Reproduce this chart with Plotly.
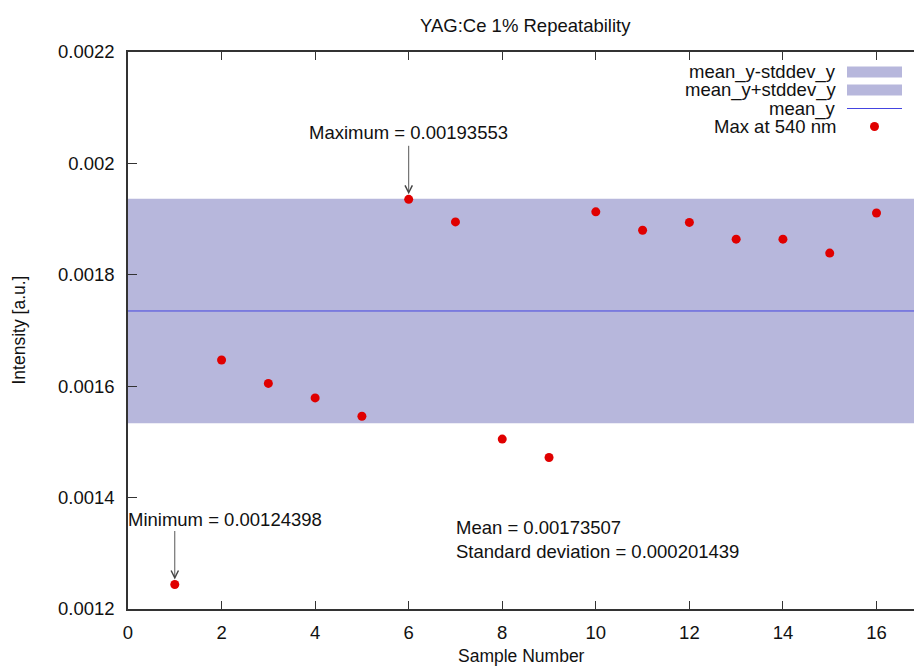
import plotly.graph_objects as go

# Repeatability measurement: peak intensity at 540 nm for each sample
samples = list(range(1, 17))
intensity = [0.00124398, 0.001647, 0.001605, 0.001579, 0.001546, 0.00193553,
             0.001895, 0.001505, 0.001472, 0.001913, 0.001880, 0.001894,
             0.001864, 0.001864, 0.001839, 0.001911]
mean_y = 0.00173507
stddev_y = 0.000201439
band_x = [0, 17]

legend_names = ["mean_y-stddev_y", "mean_y+stddev_y", "mean_y", "Max at 540 nm"]
x_ticks = list(range(0, 17, 2))
y_ticks = [0.0012, 0.0014, 0.0016, 0.0018, 0.002, 0.0022]
y_tick_text = ["0.0012", "0.0014", "0.0016", "0.0018", "0.002", "0.0022"]

W, H = 914, 669
L, T, B = 128, 52, 60
PW, PH = W - L, H - T - B

FONT = "Liberation Sans, Arial, Helvetica, sans-serif"
BAND = "rgb(183,183,220)"
LINE = "#4444e0"
RED = "#e00000"
INK = "#111111"
FRAME = "#333333"


def px(xp):
    return (xp - L) / PW


def py(yp):
    return (T + PH - yp) / PH


fig = go.Figure()

lower = [mean_y - stddev_y] * len(band_x)
upper = [mean_y + stddev_y] * len(band_x)
centre = [mean_y] * len(band_x)

fig.add_trace(go.Scatter(x=band_x, y=lower, mode="lines", line=dict(width=0),
                         name=legend_names[0], hoverinfo="skip"))
fig.add_trace(go.Scatter(x=band_x, y=upper, mode="lines", line=dict(width=0),
                         fill="tonexty", fillcolor=BAND, name=legend_names[1],
                         hoverinfo="skip"))
fig.add_trace(go.Scatter(x=band_x, y=centre, mode="lines",
                         line=dict(color=LINE, width=1), name=legend_names[2]))
fig.add_trace(go.Scatter(x=samples, y=intensity, mode="markers",
                         marker=dict(color=RED, size=9), name=legend_names[3]))

i_max = intensity.index(max(intensity))
i_min = intensity.index(min(intensity))
x_max, y_max = samples[i_max], intensity[i_max]
x_min, y_min = samples[i_min], intensity[i_min]

txt = dict(family=FONT, size=18.5, color=INK)
ann = []
# arrows pointing at the extreme values
for xv, yv in [(x_max, y_max), (x_min, y_min)]:
    ann.append(dict(x=xv, y=yv, xref="x", yref="y", text="", showarrow=True,
                    ax=0, ay=-55, arrowhead=5, arrowsize=1.6, arrowwidth=0.9,
                    arrowcolor="#444444", standoff=5))
ann.append(dict(x=x_max, y=0.002055, xref="x", yref="y", xanchor="center",
                yanchor="middle", showarrow=False, font=txt,
                text=f"Maximum = {y_max:g}"))
ann.append(dict(x=0, y=0.001361, xref="x", yref="y", xanchor="left",
                yanchor="middle", showarrow=False, font=txt, xshift=-2.5,
                text=f"Minimum = {y_min:g}"))
ann.append(dict(x=6.96, y=0.001347, xref="x", yref="y", xanchor="left",
                yanchor="middle", showarrow=False, font=txt,
                text=f"Mean = {mean_y:g}"))
ann.append(dict(x=6.96, y=0.001304, xref="x", yref="y", xanchor="left",
                yanchor="middle", showarrow=False, font=txt,
                text=f"Standard deviation = {stddev_y:g}"))

# axis titles and chart title
ann.append(dict(x=px(18), y=0.5, xref="paper", yref="paper", textangle=-90,
                showarrow=False, xanchor="center", yanchor="middle",
                text="Intensity [a.u.]", font=dict(family=FONT, size=17.5, color=INK)))
ann.append(dict(x=px(521.5), y=py(656), xref="paper", yref="paper",
                showarrow=False, xanchor="center", yanchor="middle",
                text="Sample Number", font=dict(family=FONT, size=17.5, color=INK)))
ann.append(dict(x=px(525), y=py(26), xref="paper", yref="paper",
                showarrow=False, xanchor="center", yanchor="middle",
                text="YAG:Ce 1% Repeatability", font=dict(family=FONT, size=18.5, color=INK)))

# key: labels right-aligned, samples to their right
rows = [72, 90, 108.5, 126.5]
shapes = []
for name, yr in zip(legend_names, rows):
    ann.append(dict(x=px(837), y=py(yr), xref="paper", yref="paper",
                    showarrow=False, xanchor="right", yanchor="middle",
                    text=name, font=txt, borderpad=0))
for yr in rows[:2]:
    shapes.append(dict(type="rect", xref="paper", yref="paper",
                       x0=px(847), x1=px(902), y0=py(yr - 5.5), y1=py(yr + 5.5),
                       fillcolor=BAND, line=dict(width=0)))
shapes.append(dict(type="line", xref="paper", yref="paper",
                   x0=px(847), x1=px(902), y0=py(rows[2]), y1=py(rows[2]),
                   line=dict(color=LINE, width=1)))
fig.add_trace(go.Scatter(x=[px(874.5)], y=[py(rows[3])], xaxis="x2", yaxis="y2",
                         mode="markers", marker=dict(color=RED, size=9),
                         showlegend=False, hoverinfo="skip"))

axis_font = dict(family=FONT, size=18.5, color=INK)
fig.update_layout(
    width=W, height=H,
    margin=dict(l=L, r=0, t=T, b=B, pad=0),
    paper_bgcolor="white", plot_bgcolor="white",
    showlegend=False,
    annotations=ann, shapes=shapes,
    xaxis=dict(range=[0, PW / (876.5 - L) * 16], tickvals=x_ticks,
               ticks="inside", ticklen=8, tickwidth=1.2, tickcolor=FRAME,
               showline=True, linecolor=FRAME, linewidth=1.5, mirror="ticks",
               showgrid=False, zeroline=False, tickfont=axis_font,
               ticklabelstandoff=6),
    yaxis=dict(range=[0.0012, 0.0022], tickvals=y_ticks, ticktext=y_tick_text,
               ticks="inside", ticklen=9, tickwidth=1.2, tickcolor=FRAME,
               showline=True, linecolor=FRAME, linewidth=1.5, mirror=False,
               showgrid=False, zeroline=False, tickfont=axis_font,
               ticklabelstandoff=8),
    xaxis2=dict(range=[0, 1], overlaying="x", visible=False),
    yaxis2=dict(range=[0, 1], overlaying="y", visible=False),
)

fig.write_html("out.html")
